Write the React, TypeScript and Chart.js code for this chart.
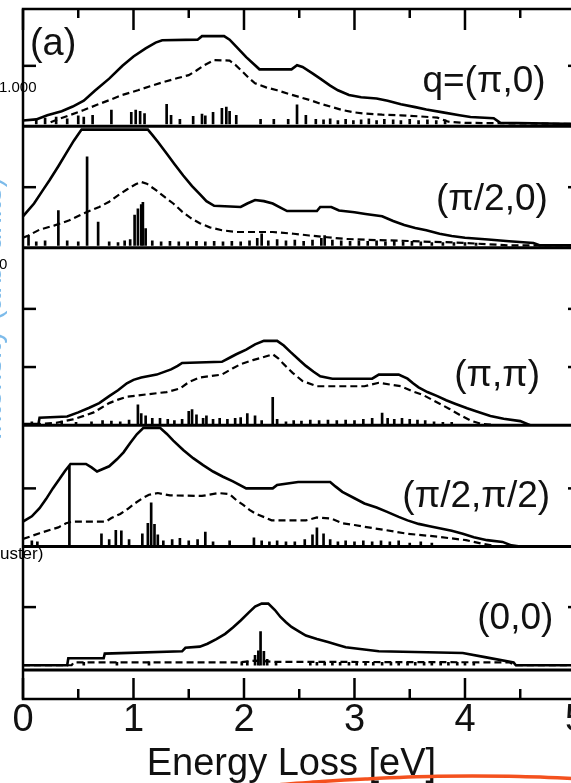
import React, { useEffect, useRef } from 'react';
import { Chart, registerables } from 'chart.js';

Chart.register(...registerables);

type Pt = [number, number];

// ---------- axis values ----------
const xMin = 0;
const xMax = 5.05;
const xTickStep = 0.5;
const xTitle = 'Energy Loss [eV]';

// ---------- panel 1 : q=(π,0) ----------
const p1Solid: Pt[] = [[0,0.06],[0.12,0.08],[0.22,0.15],[0.35,0.22],[0.45,0.3],[0.55,0.4],[0.65,0.57],[0.78,0.78],[0.9,1.0],[1.0,1.16],[1.11,1.3],[1.2,1.4],[1.26,1.44],[1.58,1.45],[1.62,1.51],[1.82,1.51],[1.87,1.45],[1.93,1.33],[2.02,1.15],[2.1,1.01],[2.14,0.94],[2.43,0.94],[2.48,1.01],[2.53,0.98],[2.62,0.87],[2.69,0.78],[2.78,0.66],[2.85,0.58],[2.95,0.5],[3.06,0.46],[3.2,0.44],[3.3,0.4],[3.42,0.34],[3.55,0.29],[3.65,0.25],[3.8,0.2],[3.95,0.15],[4.05,0.12],[4.26,0.1],[4.32,0.02],[5.05,0]];
const p1Dashed: Pt[] = [[0.25,0.03],[0.3,0.07],[0.42,0.15],[0.55,0.24],[0.67,0.33],[0.78,0.41],[0.9,0.5],[1.04,0.58],[1.15,0.65],[1.27,0.72],[1.4,0.79],[1.5,0.84],[1.57,0.92],[1.64,1.01],[1.73,1.1],[1.87,1.09],[1.92,1.02],[1.97,0.93],[2.04,0.8],[2.1,0.7],[2.2,0.63],[2.3,0.58],[2.4,0.52],[2.49,0.47],[2.6,0.41],[2.69,0.35],[2.8,0.29],[2.89,0.24],[3.0,0.2],[3.09,0.18],[3.25,0.16],[3.42,0.15],[3.6,0.13],[3.75,0.11],[3.85,0.04],[4.0,0.02],[5.05,0]];
const p1Sticks: Pt[] = [[0.12,0.08],[0.2,0.1],[0.3,0.12],[0.4,0.09],[0.5,0.14],[0.55,0.12],[0.63,0.15],[0.8,0.24],[0.98,0.2],[1.02,0.24],[1.06,0.22],[1.1,0.18],[1.3,0.34],[1.34,0.15],[1.42,0.08],[1.54,0.13],[1.62,0.17],[1.65,0.14],[1.72,0.2],[1.8,0.27],[1.84,0.29],[1.87,0.22],[1.93,0.15],[2.15,0.08],[2.27,0.08],[2.4,0.08],[2.48,0.33],[2.56,0.15],[2.65,0.08],[2.72,0.07],[2.78,0.09],[2.85,0.06],[2.92,0.08],[2.99,0.06],[3.06,0.07],[3.13,0.09],[3.2,0.06],[3.27,0.08],[3.35,0.07],[3.42,0.06],[3.5,0.08],[3.58,0.06],[3.66,0.07],[3.74,0.06],[3.82,0.07]];

// ---------- panel 2 : (π/2,0) ----------
const p2Solid: Pt[] = [[0,0.5],[0.1,0.72],[0.18,0.95],[0.24,1.12],[0.32,1.36],[0.39,1.58],[0.46,1.8],[0.53,1.99],[1.13,1.99],[1.17,1.9],[1.22,1.78],[1.3,1.58],[1.37,1.4],[1.45,1.2],[1.53,1.02],[1.6,0.88],[1.66,0.76],[1.73,0.68],[1.97,0.66],[2.03,0.72],[2.1,0.78],[2.18,0.76],[2.26,0.72],[2.33,0.65],[2.39,0.59],[2.66,0.59],[2.69,0.66],[2.79,0.66],[2.86,0.6],[3.0,0.57],[3.1,0.54],[3.25,0.5],[3.35,0.42],[3.45,0.35],[3.55,0.3],[3.65,0.26],[3.77,0.2],[3.88,0.16],[4.0,0.13],[4.21,0.1],[4.4,0.07],[4.62,0.04],[4.68,0],[5.05,0]];
const p2Dashed: Pt[] = [[0,0.13],[0.05,0.17],[0.15,0.27],[0.28,0.34],[0.42,0.43],[0.55,0.55],[0.69,0.66],[0.78,0.75],[0.86,0.86],[0.94,0.96],[1.02,1.05],[1.07,1.09],[1.12,1.06],[1.21,0.94],[1.29,0.82],[1.36,0.72],[1.44,0.58],[1.51,0.48],[1.6,0.38],[1.69,0.31],[1.8,0.26],[1.93,0.23],[2.26,0.23],[2.45,0.2],[2.59,0.17],[2.75,0.14],[2.92,0.11],[3.2,0.09],[3.42,0.08],[3.7,0.06],[3.91,0.05],[4.2,0.02],[4.4,0],[5.05,0]];
const p2Sticks: Pt[] = [[0.05,0.17],[0.12,0.06],[0.2,0.08],[0.32,0.6],[0.4,0.08],[0.5,0.06],[0.58,1.52],[0.68,0.4],[0.78,0.06],[0.86,0.05],[0.92,0.08],[0.97,0.1],[1.01,0.52],[1.04,0.63],[1.07,0.7],[1.085,0.74],[1.11,0.29],[1.17,0.08],[1.25,0.06],[1.33,0.07],[1.41,0.06],[1.49,0.06],[1.57,0.07],[1.65,0.06],[1.73,0.07],[1.81,0.06],[1.89,0.07],[1.97,0.06],[2.05,0.08],[2.12,0.12],[2.16,0.2],[2.22,0.08],[2.3,0.1],[2.38,0.08],[2.46,0.09],[2.54,0.07],[2.62,0.09],[2.7,0.12],[2.73,0.17],[2.8,0.09],[2.88,0.08],[2.96,0.07],[3.04,0.08],[3.12,0.07],[3.2,0.08],[3.28,0.06],[3.36,0.07],[3.44,0.06],[3.52,0.07],[3.6,0.06],[3.7,0.05],[3.8,0.05],[3.9,0.05],[4.0,0.05],[4.1,0.04]];

// ---------- panel 3 : (π,π) ----------
const p3Solid: Pt[] = [[0,0.02],[0.14,0.02],[0.15,0.13],[0.4,0.15],[0.5,0.22],[0.6,0.3],[0.69,0.38],[0.78,0.5],[0.86,0.6],[0.94,0.72],[1.0,0.78],[1.07,0.82],[1.21,0.87],[1.34,0.96],[1.4,1.02],[1.44,1.07],[1.8,1.09],[1.87,1.16],[1.93,1.22],[2.02,1.3],[2.1,1.39],[2.18,1.45],[2.3,1.45],[2.36,1.37],[2.42,1.26],[2.5,1.12],[2.56,1.02],[2.63,0.92],[2.69,0.84],[2.8,0.8],[3.16,0.8],[3.22,0.87],[3.4,0.87],[3.48,0.8],[3.53,0.72],[3.58,0.65],[3.66,0.57],[3.75,0.5],[3.83,0.43],[3.91,0.37],[4.02,0.29],[4.1,0.24],[4.23,0.16],[4.35,0.11],[4.5,0.07],[4.59,0],[5.05,0]];
const p3Dashed: Pt[] = [[0,0],[0.3,0.04],[0.45,0.1],[0.55,0.16],[0.64,0.22],[0.71,0.3],[0.78,0.38],[0.86,0.44],[0.94,0.49],[1.12,0.53],[1.3,0.57],[1.42,0.63],[1.5,0.74],[1.6,0.82],[1.8,0.87],[1.9,0.98],[1.97,1.05],[2.08,1.12],[2.16,1.16],[2.26,1.22],[2.31,1.15],[2.36,1.05],[2.44,0.9],[2.53,0.76],[2.66,0.67],[3.09,0.67],[3.22,0.73],[3.42,0.67],[3.53,0.58],[3.62,0.52],[3.7,0.44],[3.78,0.36],[3.86,0.28],[3.95,0.18],[4.05,0.08],[4.15,0.02],[4.3,0],[5.05,0]];
const p3Sticks: Pt[] = [[0.08,0.06],[0.35,0.07],[0.48,0.05],[0.62,0.06],[0.72,0.08],[0.8,0.07],[0.88,0.06],[0.96,0.09],[1.04,0.35],[1.07,0.2],[1.11,0.16],[1.17,0.12],[1.24,0.12],[1.31,0.1],[1.37,0.08],[1.44,0.1],[1.5,0.24],[1.53,0.27],[1.57,0.18],[1.63,0.12],[1.66,0.16],[1.72,0.1],[1.78,0.12],[1.85,0.1],[1.92,0.12],[1.97,0.13],[2.03,0.2],[2.1,0.16],[2.16,0.08],[2.26,0.48],[2.3,0.1],[2.38,0.06],[2.45,0.08],[2.52,0.07],[2.6,0.09],[2.68,0.08],[2.76,0.09],[2.84,0.08],[2.92,0.09],[3.0,0.08],[3.08,0.1],[3.16,0.12],[3.25,0.21],[3.3,0.12],[3.36,0.1],[3.43,0.12],[3.5,0.1],[3.57,0.09],[3.64,0.08],[3.72,0.06],[3.8,0.05],[3.88,0.05]];

// ---------- panel 4 : (π/2,π/2) ----------
const p4Solid: Pt[] = [[0,0.43],[0.08,0.52],[0.15,0.66],[0.21,0.82],[0.27,1.0],[0.33,1.16],[0.38,1.3],[0.43,1.42],[0.57,1.42],[0.62,1.36],[0.67,1.29],[0.78,1.38],[0.85,1.5],[0.91,1.62],[0.97,1.78],[1.03,1.93],[1.09,2.04],[1.24,2.04],[1.3,1.94],[1.36,1.82],[1.45,1.66],[1.54,1.52],[1.63,1.4],[1.72,1.29],[1.81,1.2],[1.9,1.12],[2.02,1.0],[2.26,1.0],[2.3,1.06],[2.49,1.11],[2.78,1.11],[2.83,1.03],[2.89,0.94],[3.0,0.83],[3.09,0.74],[3.2,0.67],[3.29,0.6],[3.4,0.51],[3.48,0.45],[3.58,0.39],[3.68,0.35],[3.78,0.31],[3.88,0.27],[3.98,0.22],[4.08,0.16],[4.2,0.11],[4.34,0.08],[4.42,0.02],[4.5,0],[5.05,0]];
const p4Dashed: Pt[] = [[0,0.13],[0.06,0.17],[0.15,0.23],[0.25,0.29],[0.32,0.33],[0.39,0.4],[0.45,0.43],[0.75,0.43],[0.8,0.49],[0.88,0.56],[0.95,0.65],[1.01,0.74],[1.08,0.83],[1.14,0.89],[1.22,0.92],[1.33,0.88],[1.62,0.87],[1.77,0.92],[1.87,0.9],[1.93,0.8],[1.99,0.72],[2.05,0.63],[2.11,0.56],[2.19,0.5],[2.25,0.45],[2.56,0.45],[2.66,0.5],[2.79,0.48],[2.89,0.4],[3.0,0.37],[3.09,0.34],[3.29,0.28],[3.48,0.22],[3.75,0.17],[4.01,0.11],[4.15,0.05],[4.3,0],[5.05,0]];
const p4Sticks: Pt[] = [[0.08,0.1],[0.13,0.08],[0.42,1.38],[0.71,0.22],[0.78,0.12],[0.84,0.28],[0.89,0.27],[0.96,0.12],[1.08,0.22],[1.13,0.4],[1.16,0.75],[1.19,0.38],[1.22,0.2],[1.27,0.1],[1.35,0.12],[1.42,0.14],[1.5,0.1],[1.58,0.12],[1.65,0.25],[1.72,0.08],[1.87,0.1],[2.09,0.15],[2.16,0.1],[2.23,0.08],[2.3,0.1],[2.38,0.08],[2.46,0.08],[2.55,0.12],[2.62,0.2],[2.66,0.32],[2.72,0.22],[2.78,0.12],[2.85,0.08],[2.92,0.1],[3.0,0.08],[3.08,0.1],[3.16,0.08],[3.24,0.1],[3.32,0.08],[3.4,0.1],[3.5,0.06],[3.6,0.08],[3.7,0.06]];

// ---------- panel 5 : (0,0) ----------
const p5Solid: Pt[] = [[0,0],[0.4,0],[0.41,0.12],[0.73,0.12],[0.74,0.2],[1.44,0.24],[1.47,0.3],[1.6,0.32],[1.67,0.37],[1.75,0.45],[1.83,0.54],[1.9,0.65],[1.97,0.77],[2.04,0.9],[2.1,1.01],[2.16,1.06],[2.22,1.06],[2.28,0.95],[2.33,0.83],[2.38,0.74],[2.43,0.66],[2.5,0.58],[2.56,0.51],[2.66,0.45],[2.76,0.4],[2.85,0.35],[2.92,0.31],[3.22,0.24],[3.98,0.21],[4.18,0.14],[4.44,0.05],[4.46,0],[5.05,0]];
const p5Dashed: Pt[] = [[0,0],[0.44,0],[0.46,0.05],[1.95,0.05],[2.1,0.08],[2.25,0.06],[4.4,0.05],[4.46,0],[5.05,0]];
const p5Sticks: Pt[] = [[0.55,0.05],[0.85,0.05],[1.14,0.06],[1.98,0.06],[2.03,0.07],[2.1,0.17],[2.13,0.25],[2.15,0.58],[2.18,0.24],[2.21,0.1],[2.29,0.05],[2.6,0.05],[2.66,0.05],[2.73,0.05],[2.8,0.05],[2.87,0.05],[2.95,0.05],[3.02,0.05],[3.1,0.05],[3.17,0.05],[3.25,0.05],[3.33,0.05],[3.4,0.05],[3.48,0.05],[3.55,0.05],[3.63,0.05],[3.7,0.05],[3.78,0.05],[3.85,0.05],[3.93,0.05],[4.0,0.05],[4.08,0.05]];

// ---------- panel labels ----------
const panelLabels = ['q=(π,0)', '(π/2,0)', '(π,π)', '(π/2,π/2)', '(0,0)'];
const panelLabelE = [4.73, 4.75, 4.68, 4.77, 4.8];
const panelLabelV = [0.55, 0.61, 0.68, 0.68, 0.63];
const figTag = '(a)';
const figTagE = 0.063;
const figTagV = 1.18;
const yTitle = 'Intensity (arb. units)';

// orange hand-drawn underline (E, strip units)
const underlineE = [2.0, 2.25, 2.7, 3.1, 3.75, 4.4, 5.05];
const underlineV = [-3.25, -2.98, -2.84, -2.75, -2.66, -2.66, -2.74];

const FONT = '"Liberation Sans", Arial, Helvetica, sans-serif';
const INK = '#111';

const panelIds = ['p1', 'p2', 'p3', 'p4', 'p5'];
const panels = [
  { id: 'p1', solid: p1Solid, dashed: p1Dashed, sticks: p1Sticks },
  { id: 'p2', solid: p2Solid, dashed: p2Dashed, sticks: p2Sticks },
  { id: 'p3', solid: p3Solid, dashed: p3Dashed, sticks: p3Sticks },
  { id: 'p4', solid: p4Solid, dashed: p4Dashed, sticks: p4Sticks },
  { id: 'p5', solid: p5Solid, dashed: p5Dashed, sticks: p5Sticks },
];

const toXY = (pts: Pt[]) => pts.map(([x, y]) => ({ x, y }));
const isInt = (v: number) => Math.abs(v - Math.round(v)) < 1e-6;

function panelScale(min: number, max: number, stackWeight: number, weight: number) {
  return {
    type: 'linear',
    position: 'left',
    stack: 'panels',
    stackWeight,
    weight,
    min,
    max,
    ticks: { display: false, stepSize: 1, includeBounds: false },
    grid: { display: false, drawTicks: false, tickLength: 0 },
    border: { display: false },
  };
}

const decorPlugin = {
  id: 'decor',
  afterDatasetsDraw(chart: any) {
    const { ctx, chartArea: ca, scales } = chart;
    const xs = scales.x;
    const line = (x1: number, y1: number, x2: number, y2: number) => {
      ctx.beginPath();
      ctx.moveTo(x1, y1);
      ctx.lineTo(x2, y2);
      ctx.stroke();
    };
    ctx.save();
    ctx.strokeStyle = '#000';
    ctx.lineCap = 'butt';
    // panel separators
    ctx.lineWidth = 3;
    for (const id of panelIds) {
      const s = scales[id];
      line(ca.left, s.bottom, ca.right, s.bottom);
    }
    // frame
    ctx.lineWidth = 2.5;
    ctx.strokeRect(ca.left, ca.top, ca.right - ca.left, ca.bottom - ca.top);
    // inward y ticks on both sides
    for (const id of panelIds) {
      const s = scales[id];
      for (const t of s.ticks) {
        if (t.value <= 0 || t.value > s.max - 0.15) continue;
        const y = s.getPixelForValue(t.value);
        line(ca.left, y, ca.left + 13, y);
        line(ca.right - 13, y, ca.right, y);
      }
    }
    // inward x ticks (top frame and bottom strip)
    for (const t of xs.ticks) {
      const px = xs.getPixelForValue(t.value);
      const major = isInt(t.value);
      line(px, ca.top, px, ca.top + (major ? 21 : 9));
      line(px, ca.bottom, px, ca.bottom - (major ? 21 : 10));
    }
    ctx.restore();
  },
  afterDraw(chart: any) {
    const { ctx, scales } = chart;
    const xs = scales.x;
    ctx.save();
    // panel labels
    ctx.fillStyle = INK;
    ctx.font = `37px ${FONT}`;
    ctx.textAlign = 'right';
    ctx.textBaseline = 'alphabetic';
    panelLabels.forEach((txt, i) => {
      const s = scales[panelIds[i]];
      ctx.fillText(txt, xs.getPixelForValue(panelLabelE[i]), s.getPixelForValue(panelLabelV[i]));
    });
    // (a)
    ctx.font = `38px ${FONT}`;
    ctx.textAlign = 'left';
    ctx.fillText(figTag, xs.getPixelForValue(figTagE), scales.p1.getPixelForValue(figTagV));
    // cropped y-axis title (only the edge of its glyphs shows at the left border)
    ctx.save();
    ctx.translate(0.5, scales.p3.getPixelForValue(2.0));
    ctx.rotate(-Math.PI / 2);
    ctx.fillStyle = '#7dbbea';
    ctx.font = `30px ${FONT}`;
    ctx.textAlign = 'center';
    ctx.textBaseline = 'alphabetic';
    ctx.fillText(yTitle, 0, 0);
    ctx.restore();
    // orange underline stroke
    const ys = scales.ps;
    const pts = underlineE.map((e, i) => [xs.getPixelForValue(e), ys.getPixelForValue(underlineV[i])]);
    ctx.strokeStyle = '#f4511e';
    ctx.lineWidth = 3.5;
    ctx.lineCap = 'round';
    ctx.lineJoin = 'round';
    ctx.beginPath();
    ctx.moveTo(pts[0][0], pts[0][1]);
    for (let i = 0; i < pts.length - 1; i++) {
      const p0 = pts[Math.max(0, i - 1)];
      const p1 = pts[i];
      const p2 = pts[i + 1];
      const p3 = pts[Math.min(pts.length - 1, i + 2)];
      const c1x = p1[0] + (p2[0] - p0[0]) / 6;
      const c1y = p1[1] + (p2[1] - p0[1]) / 6;
      const c2x = p2[0] - (p3[0] - p1[0]) / 6;
      const c2y = p2[1] - (p3[1] - p1[1]) / 6;
      ctx.bezierCurveTo(c1x, c1y, c2x, c2y, p2[0], p2[1]);
    }
    ctx.stroke();
    ctx.restore();
  },
};

export default function App() {
  const canvasRef = useRef<HTMLCanvasElement>(null);

  useEffect(() => {
    const datasets: any[] = [];
    panels.forEach((p) => {
      datasets.push({
        type: 'line',
        data: toXY(p.solid),
        yAxisID: p.id,
        borderColor: '#000',
        borderWidth: 2.6,
        pointRadius: 0,
        pointHoverRadius: 0,
        tension: 0,
        fill: false,
      });
      datasets.push({
        type: 'line',
        data: toXY(p.dashed),
        yAxisID: p.id,
        borderColor: '#000',
        borderWidth: 2.2,
        borderDash: [7, 4],
        pointRadius: 0,
        pointHoverRadius: 0,
        tension: 0,
        fill: false,
      });
      datasets.push({
        type: 'bar',
        data: toXY(p.sticks),
        yAxisID: p.id,
        backgroundColor: '#000',
        borderWidth: 0,
        barThickness: 2,
        grouped: false,
      });
    });

    const chart = new Chart(canvasRef.current as HTMLCanvasElement, {
      type: 'line',
      data: { datasets },
      options: {
        animation: false,
        responsive: false,
        devicePixelRatio: 1,
        events: [],
        layout: { padding: { left: 23, top: 9, right: 19, bottom: 0 } },
        plugins: { legend: { display: false }, tooltip: { enabled: false } },
        scales: {
          x: {
            type: 'linear',
            min: xMin,
            max: xMax,
            offset: false,
            grid: { display: false, drawTicks: false, tickLength: 0 },
            border: { display: false },
            ticks: {
              stepSize: xTickStep,
              includeBounds: false,
              autoSkip: false,
              maxRotation: 0,
              minRotation: 0,
              maxTicksLimit: 30,
              padding: 3,
              color: INK,
              font: { family: FONT, size: 38, lineHeight: 1 },
              callback: (v: any) => (isInt(Number(v)) ? String(Math.round(Number(v))) : ''),
            },
            title: {
              display: true,
              text: xTitle + '\u00a0\u00a0',
              color: INK,
              font: { family: FONT, size: 38, lineHeight: 1 },
              padding: { top: 3, bottom: 2 },
            },
          },
          p1: panelScale(-0.04, 1.977, 117, 6),
          p2: panelScale(-0.04, 2.046, 121, 5),
          p3: panelScale(0, 3.052, 177, 4),
          p4: panelScale(0, 2.086, 121, 3),
          p5: panelScale(-0.08, 2.041, 123, 2),
          ps: panelScale(0, 1, 29, 1),
        } as any,
      },
      plugins: [decorPlugin],
    } as any);
    return () => chart.destroy();
  }, []);

  const stray = { position: 'absolute' as const, color: '#000', whiteSpace: 'nowrap' as const, fontFamily: FONT };

  return (
    <div style={{ position: 'absolute', left: 0, top: 0, width: 571, height: 783, overflow: 'hidden', background: '#fff' }}>
      <canvas ref={canvasRef} width={600} height={786} style={{ position: 'absolute', left: 0, top: 0, display: 'block' }} />
      <span style={{ ...stray, left: -1, top: 79, fontSize: 15, lineHeight: '15px' }}>1.000</span>
      <span style={{ ...stray, left: -1, top: 256, fontSize: 15, lineHeight: '15px' }}>0</span>
      <span style={{ ...stray, left: -18, top: 545, fontSize: 17, lineHeight: '17px' }}>(cluster)</span>
    </div>
  );
}
